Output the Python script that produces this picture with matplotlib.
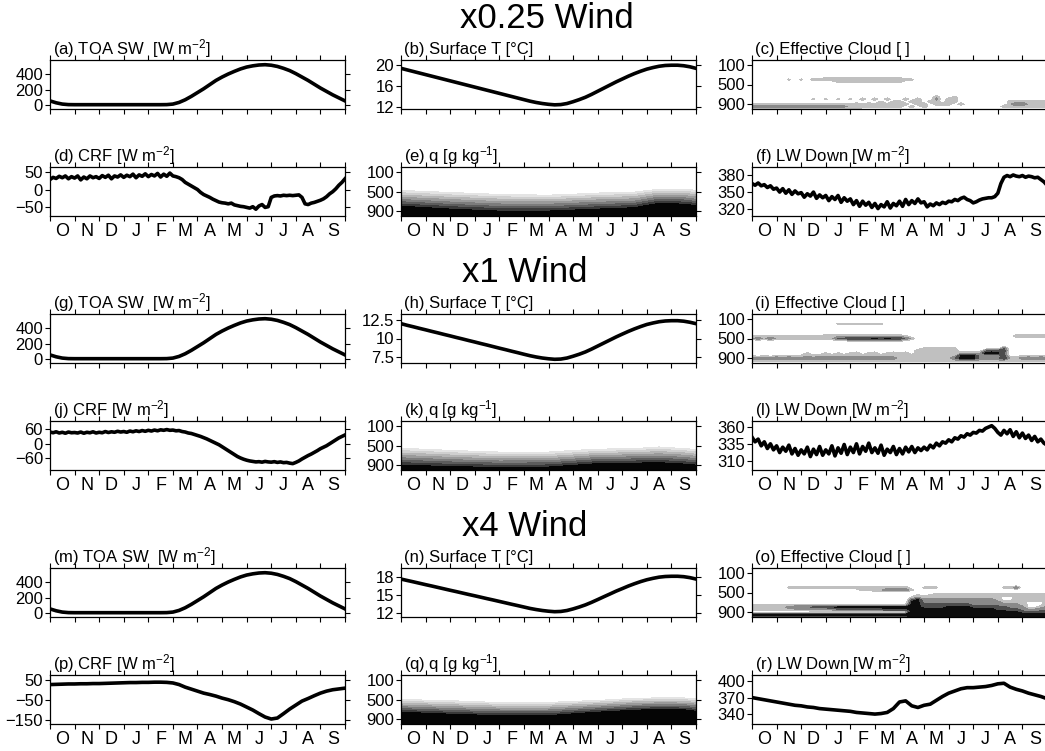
import numpy as np
import matplotlib.pyplot as plt

plt.rcParams['font.family'] = ['Liberation Sans', 'DejaVu Sans']
plt.rcParams['mathtext.fontset'] = 'custom'
plt.rcParams['mathtext.rm'] = 'Liberation Sans'
plt.rcParams['mathtext.it'] = 'Liberation Sans:italic'

W, H = 1045, 751

months = ["O", "N", "D", "J", "F", "M", "A", "M", "J", "J", "A", "S"]
rows_title = ["x0.25 Wind", "x1 Wind", "x4 Wind"]

# time axes for line data (months since 1 Oct)
t_line = np.arange(49) * 0.25
t_fine = np.arange(97) * 0.125

toa_sw = [50, 25, 8, 1, 0, 0, 0, 0, 0, 0, 0, 0, 0, 0, 0, 0, 0, 0, 0, 1,
          8, 30, 65, 110, 160, 210, 265, 320, 365, 405, 440, 472, 497, 513, 524, 528,
          521, 505, 480, 450, 410, 365, 320, 270, 220, 175, 130, 90, 50]

sst_a = [19.4, 19.1, 18.8, 18.5, 18.2, 17.9, 17.6, 17.3, 17.0, 16.7, 16.4, 16.1,
         15.8, 15.5, 15.2, 14.9, 14.6, 14.3, 14.0, 13.7, 13.4, 13.1, 12.85, 12.65,
         12.5, 12.4, 12.45, 12.65, 13.0, 13.4, 13.85, 14.4, 15.0, 15.6, 16.2, 16.8,
         17.35, 17.9, 18.4, 18.85, 19.25, 19.55, 19.8, 19.95, 20.0, 20.0, 19.9, 19.7, 19.4]
sst_b = [12.0, 11.78, 11.58, 11.37, 11.17, 10.96, 10.76, 10.55, 10.35, 10.14, 9.94, 9.73,
         9.53, 9.32, 9.12, 8.91, 8.70, 8.50, 8.29, 8.09, 7.88, 7.68, 7.51, 7.37,
         7.27, 7.2, 7.23, 7.37, 7.61, 7.88, 8.19, 8.57, 8.98, 9.39, 9.80, 10.21,
         10.59, 10.96, 11.30, 11.61, 11.89, 12.09, 12.26, 12.36, 12.4, 12.4, 12.33, 12.19, 12.0]
sst_c = [17.73, 17.49, 17.26, 17.02, 16.78, 16.55, 16.31, 16.07, 15.83, 15.60, 15.36, 15.12,
         14.89, 14.65, 14.41, 14.18, 13.94, 13.70, 13.46, 13.23, 12.99, 12.75, 12.56, 12.40,
         12.28, 12.2, 12.24, 12.40, 12.67, 12.99, 13.35, 13.78, 14.25, 14.73, 15.20, 15.68,
         16.11, 16.55, 16.94, 17.30, 17.61, 17.85, 18.05, 18.16, 18.2, 18.2, 18.13, 17.97, 17.73]

# noisy series, eighth-month steps
crf_a = [28, 34, 31, 37, 33, 38, 30, 36, 32, 38, 27, 35, 30, 38, 33, 36,
         31, 39, 34, 40, 30, 38, 35, 41, 34, 40, 36, 43, 33, 41, 37, 44,
         36, 42, 38, 45, 35, 43, 37, 46, 38, 36, 33, 28, 20, 15, 10, 5,
         0, -8, -14, -18, -22, -27, -31, -35, -37, -38, -40, -38, -43, -45, -47, -48,
         -50, -52, -48, -55, -46, -42, -50, -48, -22, -18, -17, -18, -16, -17, -16, -17,
         -16, -15, -22, -40, -42, -38, -36, -33, -30, -26, -20, -12, -6, 2, 12, 20, 30]
crf_b = [48, 45, 49, 44, 47, 43, 48, 45, 46, 44, 48, 43, 47, 45, 49, 44,
         47, 45, 50, 46, 49, 47, 51, 48, 50, 47, 52, 49, 53, 50, 54, 51,
         55, 52, 56, 53, 57, 55, 58, 55, 56, 53, 54, 50, 48, 44, 42, 38,
         34, 30, 25, 20, 14, 8, 2, -4, -12, -20, -28, -36, -44, -52, -58, -63,
         -67, -70, -72, -74, -73, -75, -72, -74, -75, -73, -76, -74, -77, -76, -79, -81,
         -76, -70, -62, -55, -48, -42, -35, -28, -20, -14, -8, 0, 8, 16, 24, 30, 36]
crf_c = [28, 29, 30, 31, 31, 32, 32, 33, 33, 34, 35, 36, 37, 38, 38, 39, 39, 40, 40, 39,
         36, 28, 15, 5, -5, -15, -22, -30, -40, -48, -58, -70, -85, -100, -118, -135,
         -145, -140, -118, -95, -75, -55, -42, -28, -15, -5, 2, 6, 10]

lw_a = [365, 362, 366, 361, 363, 358, 361, 355, 357, 350, 356, 348, 354, 346, 352, 347,
        349, 341, 347, 343, 350, 339, 345, 340, 344, 335, 342, 337, 344, 332, 340, 334,
        338, 328, 335, 325, 334, 327, 332, 323, 330, 321, 328, 324, 333, 322, 330, 326,
        334, 325, 337, 328, 335, 330, 338, 331, 333, 324, 329, 326, 331, 328, 332, 330,
        334, 333, 337, 335, 339, 341, 337, 335, 331, 333, 336, 338, 339, 340, 340, 342,
        348, 365, 376, 379, 377, 380, 378, 377, 379, 376, 378, 377, 375, 376, 372, 368, 362]
lw_b = [345, 338, 342, 332, 338, 328, 335, 326, 332, 322, 330, 324, 333, 320, 328, 318,
        326, 320, 330, 316, 327, 319, 331, 318, 326, 320, 332, 317, 329, 321, 334, 319,
        330, 322, 335, 320, 331, 324, 336, 322, 329, 321, 333, 318, 327, 322, 331, 319,
        328, 320, 330, 323, 331, 322, 329, 325, 330, 326, 333, 329, 336, 332, 338, 336,
        341, 338, 344, 342, 347, 345, 350, 348, 352, 351, 355, 354, 358, 360, 362, 358,
        352, 348, 355, 350, 356, 346, 353, 344, 351, 343, 348, 340, 346, 338, 342, 336, 333]
lw_c = [370, 368, 366, 364, 362, 360, 358, 356, 355, 353, 352, 350, 349, 348, 347, 346,
        345, 343, 342, 341, 340, 341, 343, 350, 362, 364, 355, 352, 356, 358, 365, 372,
        378, 382, 386, 388, 388, 389, 390, 392, 395, 396, 389, 385, 382, 378, 375, 372, 368]

# specific humidity, rows = pressure level, columns = time
q_t = [0, 2, 4, 6, 8, 9.5, 10.5, 11.5, 12]
q_p = [450, 500, 550, 600, 650, 700, 750, 800, 850, 900, 950, 1000]
q_e = [[0, 0, 0, 0, 0, 0, 0.4, 0.4, 0],
       [0.9, 0.1, 0, 0, 0, 0.2, 1.7, 1.6, 0.95],
       [2.0, 1.1, 0.3, 0, 0.8, 1.3, 2.9, 2.8, 2.1],
       [3.1, 2.1, 1.3, 1.0, 1.9, 2.4, 4.1, 3.9, 3.2],
       [4.2, 3.2, 2.4, 2.1, 3.0, 3.5, 5.3, 5.0, 4.3],
       [5.3, 4.2, 3.4, 3.2, 4.1, 4.6, 6.5, 6.1, 5.4],
       [6.4, 5.2, 4.4, 4.3, 5.1, 5.7, 7.7, 7.3, 6.6],
       [7.5, 6.3, 5.4, 5.3, 6.2, 6.8, 8.9, 8.4, 7.7],
       [8.6, 7.3, 6.5, 6.4, 7.3, 7.9, 10.1, 9.5, 8.8],
       [9.7, 8.3, 7.5, 7.5, 8.4, 9.0, 11.3, 10.6, 9.9],
       [10.8, 9.4, 8.5, 8.6, 9.5, 10.1, 12.5, 11.8, 11.0],
       [11.9, 10.4, 9.6, 9.7, 10.5, 11.2, 13.7, 12.9, 12.2]]
q_k = [[0, 0, 0, 0, 0, 0, 0, 0, 0],
       [0, 0, 0, 0, 0, 0, 0, 0, 0],
       [0.4, 0, 0, 0, 0, 0.27, 0.83, 0.28, 0],
       [1.4, 0.5, 0, 0, 0.98, 1.43, 1.94, 1.38, 0.73],
       [2.43, 1.56, 0.73, 0.73, 2.19, 2.6, 3.05, 2.47, 1.86],
       [3.44, 2.62, 1.86, 1.9, 3.4, 3.76, 4.16, 3.57, 2.99],
       [4.46, 3.68, 2.99, 3.06, 4.6, 4.93, 5.27, 4.66, 4.12],
       [5.47, 4.74, 4.12, 4.23, 5.8, 6.09, 6.38, 5.76, 5.25],
       [6.49, 5.8, 5.25, 5.4, 7.0, 7.26, 7.49, 6.85, 6.38],
       [7.5, 6.86, 6.38, 6.56, 8.2, 8.42, 8.6, 7.95, 7.5],
       [8.52, 7.92, 7.51, 7.73, 9.4, 9.59, 9.7, 9.04, 8.64],
       [9.5, 9.0, 8.6, 8.9, 10.6, 10.8, 10.8, 10.1, 9.8]]
q_q = [[0, 0, 0, 0, 0, 0, 0, 0, 0],
       [0.5, 0, 0, 0, 0, 1.08, 1.41, 1.38, 0.78],
       [1.85, 1.02, 0.24, 0.24, 1.38, 2.54, 2.93, 2.84, 2.18],
       [3.19, 2.31, 1.54, 1.54, 2.84, 4.0, 4.46, 4.3, 3.58],
       [4.54, 3.61, 2.83, 2.83, 4.3, 5.46, 5.98, 5.76, 4.98],
       [5.88, 4.9, 4.13, 4.13, 5.76, 6.92, 7.5, 7.22, 6.38],
       [7.23, 6.2, 5.42, 5.42, 7.22, 8.38, 9.0, 8.68, 7.78],
       [8.6, 7.5, 6.7, 6.7, 8.7, 9.8, 10.6, 10.1, 9.2],
       [9.9, 8.8, 8.0, 8.0, 10.1, 11.3, 12.1, 11.6, 10.6],
       [11.3, 10.1, 9.3, 9.3, 11.6, 12.8, 13.6, 13.1, 12.0],
       [12.6, 11.4, 10.6, 10.6, 13.0, 14.2, 15.1, 14.5, 13.4],
       [14.0, 12.7, 11.9, 11.9, 14.5, 15.7, 16.6, 16.0, 14.8]]

# effective cloud, one string per pressure level (100..1000 hPa every 50),
# one digit per quarter month (groups of four = one month)
cld_p = list(range(100, 1001, 50))
Z = "0000 0000 0000 0000 0000 0000 0000 0000 0000 0000 0000 0000 0"
cld_c = [Z, Z, Z, Z, Z,
         "0000 0000 0000 1111 1111 1111 1000 0000 0000 0000 0000 0000 0",
         "0000 0020 2033 3333 3333 3333 3320 0000 0000 0000 0000 0010 0",
         "0000 0000 0000 0022 2222 2222 2000 0000 0000 0000 0000 0000 0",
         Z, Z, Z, Z, Z,
         "0000 0000 0000 0000 0000 0000 0000 0030 0200 0000 0000 0000 0",
         "0000 0000 0020 2020 2030 3030 0303 0040 3300 0000 0000 0000 0",
         "0000 0000 0000 0000 0000 0202 3033 0330 3300 0000 0033 3333 3",
         "2222 2222 2222 2222 2323 2323 3303 3033 3030 0000 0035 5333 3",
         "5555 5555 5545 4444 3333 3333 3030 3000 0000 0000 0333 3333 3",
         "2222 2222 2222 2222 2200 0000 0000 0000 0000 0000 0000 0000 0"]
cld_i = [Z, Z,
         "0000 0000 0000 0022 2222 2200 0000 0000 0000 0000 0000 0000 0",
         Z, Z, Z, Z,
         "2222 2222 2222 3333 3333 3333 3200 0000 0000 0000 0003 3333 3",
         "3535 3333 3333 3366 7777 8787 7530 0000 0000 0000 0000 1111 1",
         "0000 0000 0000 0011 2222 2222 2100 0000 0000 0000 0000 0000 0",
         Z, Z,
         "0000 0000 0000 0000 0000 0000 0000 2222 2200 0000 0500 0000 0",
         "0000 0000 0000 0000 0000 0000 0003 3333 3300 0057 6700 0000 0",
         "0000 0000 0200 2020 2302 3023 2303 3333 3333 3388 8500 0000 0",
         "2020 2222 2323 2323 3232 3333 3333 3333 3388 8533 3700 2222 2",
         "4545 5454 4545 5454 4545 5454 3333 3333 3588 8544 5733 4545 4",
         "3333 3333 3333 3333 3333 3333 3333 3333 3333 3333 3333 3333 3",
         Z]
cld_o = [Z, Z, Z, Z, Z, Z,
         "0000 0022 2222 2222 2222 3333 3300 2220 0000 0000 0225 0000 0",
         "0000 0000 0000 0000 0122 3355 5520 0000 0000 0000 0000 0000 0",
         "0000 0000 0000 0000 0000 0000 0000 0011 1111 1111 1111 1111 1",
         "0000 0000 0000 0000 0000 0000 0002 0222 2222 2222 2222 2222 2",
         "0000 0000 0000 0000 0000 0000 0023 3333 3333 3333 2112 2222 2",
         "0000 0000 0000 0000 0000 0000 0068 4444 4444 4444 3113 2222 2",
         "0000 0000 0000 0000 0000 0000 0088 5555 5555 5454 4333 2111 3",
         "2222 2222 2222 2222 2222 2222 2288 6666 6666 5555 5444 3111 3",
         "3333 3345 5566 6788 8888 8888 8888 7777 8888 7777 6655 4113 4",
         "2222 2233 3344 4455 5566 6677 7788 8888 9999 8888 7766 5445 5",
         "0000 0000 0000 0000 0000 0000 0088 8888 9999 8888 8888 6666 6",
         "9999 9999 9999 9999 9999 9999 9999 9999 9999 9999 9999 9999 9",
         "4444 4444 4444 4444 4444 4444 4499 9999 9999 9999 9999 9999 9"]

q_levels = [0.5, 1.5, 2.5, 3.5, 4.5, 5.5, 6.5, 7.5, 30]
q_colors = ['#e4e4e4', '#cfcfcf', '#b5b5b5', '#9a9a9a', '#7c7c7c', '#5c5c5c', '#3a3a3a', '#050505']
cld_levels = [1.5, 3.5, 5.5, 7.5, 10]
cld_colors = ['#c0c0c0', '#8a8a8a', '#4d4d4d', '#0d0d0d']


def to_grid(rows):
    return np.array([[int(c) for c in r.replace(" ", "")[:49].ljust(49, "0")] for r in rows], float)


fig = plt.figure(figsize=(W / 100, H / 100), dpi=100)

col_x = [50, 401, 752]
ax_w, ax_h = 295, 49
top_upper = [60, 314, 568]
top_lower = [167, 421, 675]
title_y = [18, 272, 526]
title_x = [547, 525, 525]


def new_ax(col, top, label, bottom_labels):
    ax = fig.add_axes([col_x[col] / W, 1 - (top + ax_h) / H, ax_w / W, ax_h / H])
    ax.set_xlim(0, 12)
    ax.set_xticks(range(13))
    ax.set_xticklabels([])
    ax.set_xticks(np.arange(12) + 0.5, minor=True)
    if bottom_labels:
        ax.set_xticklabels(months, minor=True)
    else:
        ax.set_xticklabels([], minor=True)
    ax.tick_params(which='major', direction='out', length=3.5, width=0.8,
                   top=True, right=True, labelsize=12, pad=1.5)
    ax.tick_params(which='minor', length=0, labelsize=13, pad=5)
    for s in ax.spines.values():
        s.set_linewidth(0.9)
    ax.text(0.01, 1 + 6 / ax_h, label, transform=ax.transAxes, fontsize=12,
            va='baseline', ha='left')
    return ax


def line_panel(col, top, label, t, y, ylim, yticks, bottom_labels=False):
    ax = new_ax(col, top, label, bottom_labels)
    ax.plot(t, y, color='k', lw=2.6, solid_joinstyle='round')
    ax.set_ylim(*ylim)
    ax.set_yticks(yticks)
    ax.set_yticklabels([str(v).replace("-", "\u2212") for v in yticks])
    return ax


def q_panel(col, top, label, q):
    ax = new_ax(col, top, label, True)
    ax.contourf(q_t, q_p, np.array(q), levels=q_levels, colors=q_colors)
    ax.set_ylim(1000, 0)
    ax.set_yticks([100, 500, 900])
    return ax


def cloud_panel(col, top, label, rows):
    ax = new_ax(col, top, label, False)
    ax.contourf(t_line, cld_p, to_grid(rows), levels=cld_levels, colors=cld_colors)
    ax.set_ylim(1000, 0)
    ax.set_yticks([100, 500, 900])
    return ax


wm2 = r"[W m$^{-2}$]"
gkg = r"[g kg$^{-1}$]"

for r, title in enumerate(rows_title):
    fig.text(title_x[r] / W, 1 - title_y[r] / H, title, ha='center', va='center', fontsize=25)

# row 1: x0.25
line_panel(0, top_upper[0], "(a) TOA SW  " + wm2, t_line, toa_sw, (-57, 590), [0, 200, 400])
line_panel(1, top_upper[0], "(b) Surface T [°C]", t_line, sst_a, (11.6, 21), [12, 16, 20])
cloud_panel(2, top_upper[0], "(c) Effective Cloud [ ]", cld_c)
line_panel(0, top_lower[0], "(d) CRF " + wm2, t_fine, crf_a, (-74, 63), [-50, 0, 50], True)
q_panel(1, top_lower[0], "(e) q " + gkg, q_e)
line_panel(2, top_lower[0], "(f) LW Down " + wm2, t_fine, lw_a, (308, 394), [320, 350, 380], True)

# row 2: x1
line_panel(0, top_upper[1], "(g) TOA SW  " + wm2, t_line, toa_sw, (-57, 590), [0, 200, 400])
line_panel(1, top_upper[1], "(h) Surface T [°C]", t_line, sst_b, (6.7, 13.3), [7.5, 10, 12.5])
cloud_panel(2, top_upper[1], "(i) Effective Cloud [ ]", cld_i)
line_panel(0, top_lower[1], "(j) CRF " + wm2, t_fine, crf_b, (-107, 93), [-60, 0, 60], True)
q_panel(1, top_lower[1], "(k) q " + gkg, q_k)
line_panel(2, top_lower[1], "(l) LW Down " + wm2, t_fine, lw_b, (296, 369), [310, 335, 360], True)

# row 3: x4
line_panel(0, top_upper[2], "(m) TOA SW  " + wm2, t_line, toa_sw, (-57, 590), [0, 200, 400])
line_panel(1, top_upper[2], "(n) Surface T [°C]", t_line, sst_c, (11.3, 19.6), [12, 15, 18])
cloud_panel(2, top_upper[2], "(o) Effective Cloud [ ]", cld_o)
line_panel(0, top_lower[2], "(p) CRF " + wm2, t_line, crf_c, (-170, 76), [-150, -50, 50], True)
q_panel(1, top_lower[2], "(q) q " + gkg, q_q)
line_panel(2, top_lower[2], "(r) LW Down " + wm2, t_line, lw_c, (322, 411), [340, 370, 400], True)

fig.savefig("out.png", dpi=100)
